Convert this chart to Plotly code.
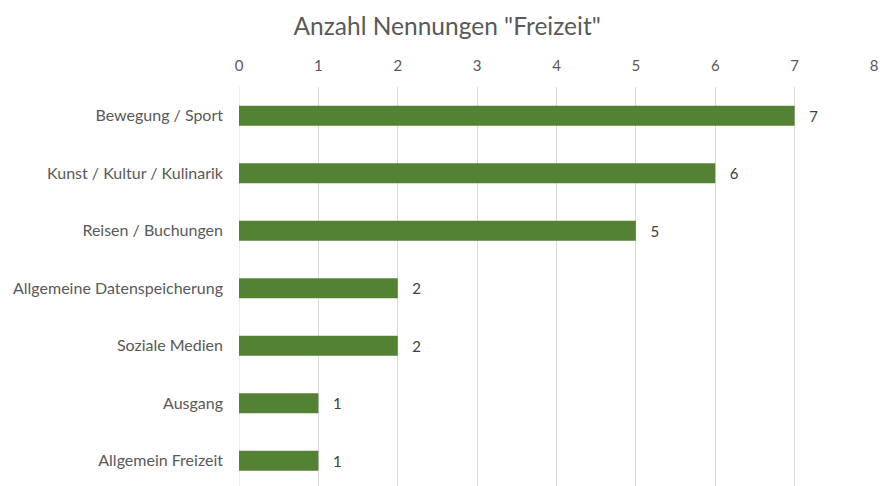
import plotly.graph_objects as go

categories = ["Bewegung / Sport", "Kunst / Kultur / Kulinarik", "Reisen / Buchungen",
              "Allgemeine Datenspeicherung", "Soziale Medien", "Ausgang", "Allgemein Freizeit"]
values = [7, 6, 5, 2, 2, 1, 1]
x_ticks = [0, 1, 2, 3, 4, 5, 6, 7, 8]

fig = go.Figure(go.Bar(
    y=categories, x=values, orientation="h",
    marker=dict(color="#548235", line=dict(width=0)),
    width=0.35,
    text=[f"   {v}" for v in values], textposition="outside",
    textfont=dict(size=15, color="#404040", family="Lato"),
    cliponaxis=False,
))

fig.update_layout(
    width=882, height=486,
    margin=dict(l=239, r=8, t=87, b=0, autoexpand=False),
    paper_bgcolor="white", plot_bgcolor="white",
    font=dict(family="Lato", color="#595959"),
    title=dict(text='Anzahl Nennungen "Freizeit"', x=0.507, xanchor="center",
               y=0.945, yanchor="middle",
               font=dict(size=24.5, color="#595959", family="Lato")),
    showlegend=False,
    bargap=0.65,
)
fig.update_xaxes(
    side="top", range=[0, 8], tickvals=x_ticks, ticktext=[str(t) for t in x_ticks],
    showgrid=True, gridcolor="#d9d9d9", gridwidth=1, zeroline=False, automargin=False,
    showline=False, ticks="", tickfont=dict(size=15, color="#595959"), ticklabelstandoff=12,
)
fig.update_yaxes(
    categoryorder="array", categoryarray=categories, automargin=False,
    range=[6.44, -0.5], showgrid=False, zeroline=False, showline=False, ticks="",
    tickfont=dict(size=16, color="#595959"), ticklabelstandoff=15,
)
fig.add_shape(type="line", xref="x", yref="paper", x0=0, x1=0, y0=0, y1=1,
              line=dict(color="#d9d9d9", width=1), layer="below")

fig.write_html("out.html", config={"displayModeBar": False},
               post_script="document.body.style.margin='0';document.body.style.overflow='hidden';")
